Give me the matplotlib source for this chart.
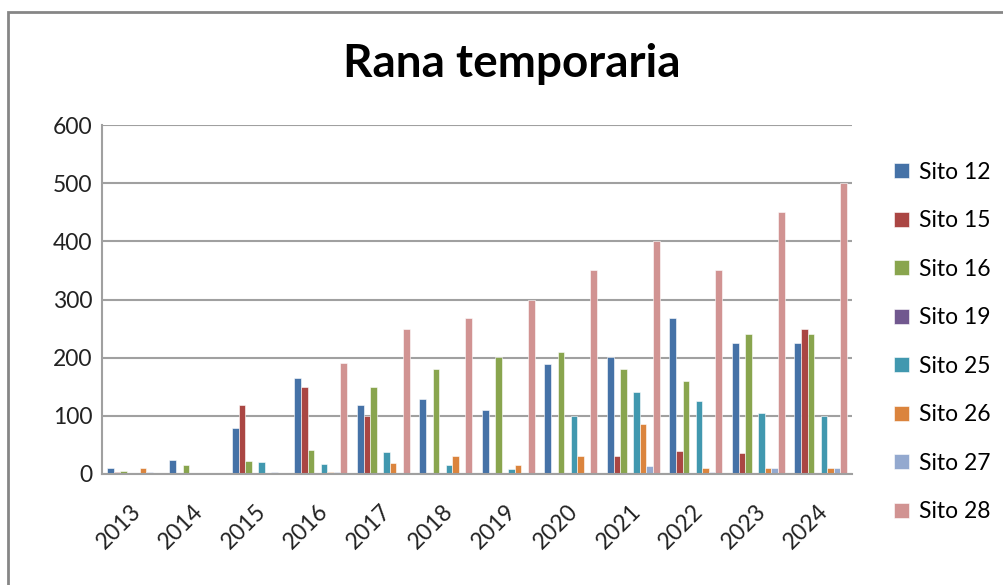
import matplotlib
matplotlib.use("Agg")
import matplotlib.pyplot as plt
import numpy as np
from matplotlib.patches import Rectangle

plt.rcParams["font.family"] = ["Lato", "DejaVu Sans"]

years = ["2013", "2014", "2015", "2016", "2017", "2018",
         "2019", "2020", "2021", "2022", "2023", "2024"]

sito_12 = [10, 24, 79, 165, 118, 129, 110, 189, 201, 268, 225, 225]
sito_15 = [3, 0, 118, 150, 100, 0, 0, 0, 31, 39, 36, 249]
sito_16 = [5, 15, 22, 41, 150, 180, 201, 209, 180, 160, 241, 240]
sito_19 = [0, 0, 0, 0, 0, 0, 0, 0, 0, 0, 0, 0]
sito_25 = [0, 0, 20, 17, 38, 15, 9, 100, 141, 125, 105, 100]
sito_26 = [10, 0, 0, 3, 19, 31, 15, 31, 86, 10, 10, 10]
sito_27 = [3, 0, 3, 3, 0, 0, 0, 0, 13, 3, 10, 10]
sito_28 = [0, 0, 0, 190, 249, 268, 300, 350, 400, 350, 450, 500]

series = {
    "Sito 12": sito_12,
    "Sito 15": sito_15,
    "Sito 16": sito_16,
    "Sito 19": sito_19,
    "Sito 25": sito_25,
    "Sito 26": sito_26,
    "Sito 27": sito_27,
    "Sito 28": sito_28,
}
colors = ["#4572A7", "#AA4643", "#89A54E", "#71588F",
          "#4198AF", "#DB843D", "#93A9CF", "#D19392"]

fig = plt.figure(figsize=(10.04, 5.85), dpi=100)
ax = fig.add_axes([102 / 1004, 1 - 474 / 585, 750 / 1004, 349 / 585])

# outer chart border
fig.patches.append(Rectangle((8 / 1004, -0.05), 1.05, 1 - 12 / 585 + 0.05,
                             transform=fig.transFigure, fill=False,
                             edgecolor="#868686", linewidth=2))

n = len(series)
x = np.arange(len(years))
width = 1 / (n + 1.5)
for i, ((name, vals), c) in enumerate(zip(series.items(), colors)):
    offs = (i - (n - 1) / 2) * width
    ax.bar(x + offs, vals, width, color=c, label=name,
           edgecolor="white", linewidth=0.4)

ax.set_xlim(-0.5, len(years) - 0.5)
ax.set_ylim(0, 600)
ax.set_yticks(range(0, 601, 100))
ax.set_xticks(x - 0.05)
ax.set_xticklabels(years, rotation=45, fontsize=16.5, ha="right",
                   rotation_mode="anchor", color="#222222")
ax.tick_params(axis="y", labelsize=16.5, length=0, pad=7, labelcolor="#222222")
ax.tick_params(axis="x", length=0, pad=19)
ax.grid(axis="y", color="#A0A0A0", linewidth=1.5)
ax.set_axisbelow(True)
for s in ["top", "right"]:
    ax.spines[s].set_visible(False)
for s in ["left", "bottom"]:
    ax.spines[s].set_color("#A0A0A0")
    ax.spines[s].set_linewidth(1.5)

fig.text(512 / 1004, 1 - 64 / 585, "Rana temporaria", ha="center", va="center",
         fontsize=33, fontweight="bold")

ax.legend(loc="center left", bbox_to_anchor=(885 / 1004, 1 - 342 / 585),
          bbox_transform=fig.transFigure, frameon=False, fontsize=16.5,
          handlelength=0.65, handleheight=0.65, handletextpad=0.45,
          labelspacing=1.2, borderaxespad=0)

fig.savefig("out.png", dpi=100)
